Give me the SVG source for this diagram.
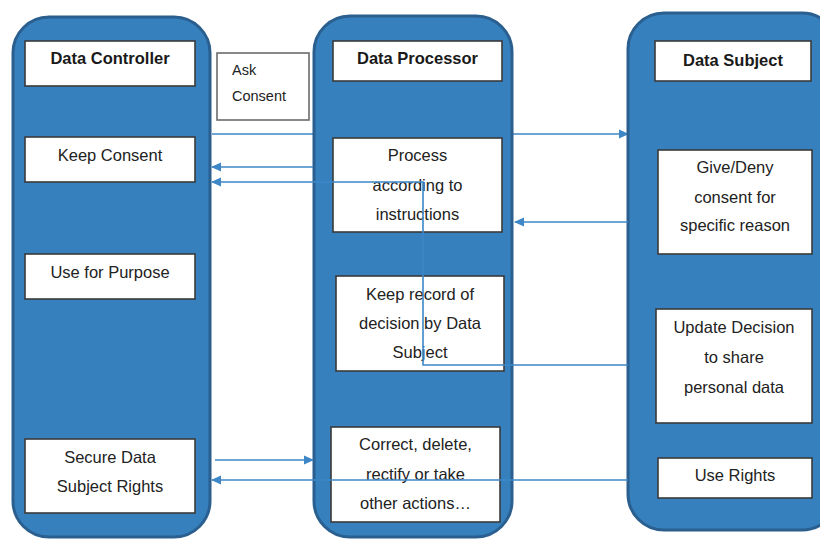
<svg xmlns="http://www.w3.org/2000/svg" width="820" height="539" viewBox="0 0 820 539">
  <defs>
    <style>
      .lane { fill: #3580bd; stroke: #2a5f8f; stroke-width: 3; }
      .box { fill: #ffffff; stroke: #3a3a3a; stroke-width: 1.6; }
      .note { fill: #ffffff; stroke: #6b6b6b; stroke-width: 1.6; }
      .hdr { font-family: "Liberation Sans", Arial, sans-serif; font-size: 16.5px; font-weight: bold; fill: #1a1a1a; text-anchor: middle; }
      .lbl { font-family: "Liberation Sans", Arial, sans-serif; font-size: 16.5px; fill: #222222; text-anchor: middle; }
      .small { font-family: "Liberation Sans", Arial, sans-serif; font-size: 14.5px; fill: #222222; }
      .flow { fill: none; stroke: #3d87c7; stroke-width: 1.6; }
    </style>
    <marker id="arrow" markerWidth="10" markerHeight="10" refX="9" refY="5" orient="auto" markerUnits="userSpaceOnUse">
      <path d="M0,0.5 L10,5 L0,9.5 Z" fill="#3d87c7"/>
    </marker>
  </defs>

  <rect width="820" height="539" fill="#ffffff"/>

  <!-- connectors passing behind the lanes -->
  <g id="connectors-back">
    <line class="flow" x1="212" y1="134" x2="314" y2="134"/>
    <line class="flow" x1="513" y1="134" x2="628" y2="134" marker-end="url(#arrow)"/>
  </g>

  <!-- swim lanes -->
  <g id="lane-controller">
    <rect class="lane" x="13" y="17" width="197" height="520" rx="36"/>
  </g>
  <g id="lane-processor">
    <rect class="lane" x="314" y="16" width="198" height="521" rx="36"/>
  </g>
  <g id="lane-subject">
    <rect class="lane" x="628" y="13" width="210" height="517" rx="36"/>
  </g>

  <!-- Data Controller -->
  <g id="data-controller">
    <rect class="box" x="25" y="41" width="170" height="45"/>
    <text class="hdr" x="110" y="64">Data Controller</text>
  </g>
  <g id="keep-consent">
    <rect class="box" x="25" y="137" width="170" height="45"/>
    <text class="lbl" x="110" y="161">Keep Consent</text>
  </g>
  <g id="use-for-purpose">
    <rect class="box" x="25" y="254" width="170" height="45"/>
    <text class="lbl" x="110" y="278">Use for Purpose</text>
  </g>
  <g id="secure-rights">
    <rect class="box" x="25" y="439" width="170" height="74"/>
    <text class="lbl" x="110" y="463">Secure Data</text>
    <text class="lbl" x="110" y="492">Subject Rights</text>
  </g>

  <!-- Ask Consent note -->
  <g id="ask-consent">
    <rect class="note" x="217" y="53" width="92" height="67"/>
    <text class="small" x="232" y="75">Ask</text>
    <text class="small" x="232" y="101">Consent</text>
  </g>

  <!-- Data Processor -->
  <g id="data-processor">
    <rect class="box" x="333" y="41" width="169" height="40"/>
    <text class="hdr" x="417.5" y="64">Data Processor</text>
  </g>
  <g id="process-instructions">
    <rect class="box" x="333" y="138" width="169" height="94"/>
    <text class="lbl" x="417.5" y="161">Process</text>
    <text class="lbl" x="417.5" y="191">according to</text>
    <text class="lbl" x="417.5" y="220">instructions</text>
  </g>
  <g id="keep-record">
    <rect class="box" x="336" y="276" width="168" height="95"/>
    <text class="lbl" x="420" y="300">Keep record of</text>
    <text class="lbl" x="420" y="329">decision by Data</text>
    <text class="lbl" x="420" y="358">Subject</text>
  </g>
  <g id="correct-delete">
    <rect class="box" x="331" y="427" width="169" height="95"/>
    <text class="lbl" x="415.5" y="450">Correct, delete,</text>
    <text class="lbl" x="415.5" y="480">rectify or take</text>
    <text class="lbl" x="415.5" y="509">other actions…</text>
  </g>

  <!-- Data Subject -->
  <g id="data-subject">
    <rect class="box" x="655" y="41" width="156" height="40"/>
    <text class="hdr" x="733" y="66">Data Subject</text>
  </g>
  <g id="give-deny">
    <rect class="box" x="658" y="150" width="154" height="104"/>
    <text class="lbl" x="735" y="173">Give/Deny</text>
    <text class="lbl" x="735" y="203">consent for</text>
    <text class="lbl" x="735" y="231">specific reason</text>
  </g>
  <g id="update-decision">
    <rect class="box" x="656" y="309" width="156" height="114"/>
    <text class="lbl" x="734" y="333">Update Decision</text>
    <text class="lbl" x="734" y="363">to share</text>
    <text class="lbl" x="734" y="393">personal data</text>
  </g>
  <g id="use-rights">
    <rect class="box" x="658" y="458" width="154" height="40"/>
    <text class="lbl" x="735" y="481">Use Rights</text>
  </g>

  <!-- connectors drawn over the lanes -->
  <g id="connectors">
    <line class="flow" x1="313" y1="167" x2="212" y2="167" marker-end="url(#arrow)"/>
    <polyline class="flow" points="628,365 423,365 423,182 212,182" marker-end="url(#arrow)"/>
    <line class="flow" x1="628" y1="222" x2="515" y2="222" marker-end="url(#arrow)"/>
    <line class="flow" x1="215" y1="460" x2="313" y2="460" marker-end="url(#arrow)"/>
    <line class="flow" x1="628" y1="480" x2="212" y2="480" marker-end="url(#arrow)"/>
  </g>
</svg>
